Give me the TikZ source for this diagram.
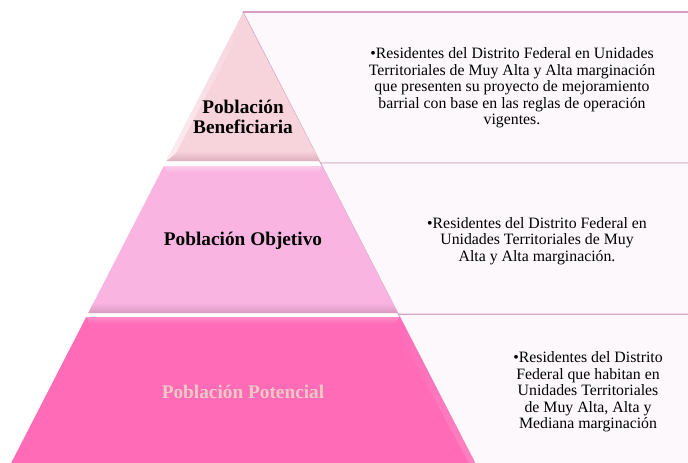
\documentclass[tikz,border=0pt]{standalone}
\usepackage{fontspec}
\setmainfont{Liberation Serif}
\definecolor{panelfill}{HTML}{FCF8FB}
\definecolor{panelline}{HTML}{D6A6C6}
\definecolor{topline}{HTML}{D89CC6}
\definecolor{tierA}{HTML}{F7D3DC}
\definecolor{tierAd}{HTML}{DDAFBC}
\definecolor{tierB}{HTML}{F9B4E1}
\definecolor{tierBd}{HTML}{D99AC0}
\definecolor{tierC}{HTML}{FF6BB7}
\definecolor{tierCd}{HTML}{EE5FAA}
\definecolor{peach}{HTML}{F2C8C6}
\tikzset{
  panel/.style={fill=panelfill, draw=panelline, line width=0.9pt},
  tierlabel/.style={font=\bfseries\fontsize{19.3}{20.5}\selectfont, align=center, inner sep=0pt},
  desc/.style={font=\fontsize{15.8}{16.4}\selectfont, align=center, inner sep=0pt, text=black}
}
\begin{document}
\begin{tikzpicture}[x=1pt,y=-1pt]
\useasboundingbox (0,0) rectangle (688,463);
% right panels
\path[panel] (243,12) -- (690,12) -- (690,163) -- (320.6,163) -- cycle;
\path[panel] (320.6,163) -- (690,163) -- (690,314) -- (398.2,314) -- cycle;
\path[fill=panelfill] (398.2,314) -- (690,314) -- (690,465) -- (476,465) -- cycle;
\draw[panelline, line width=0.9pt] (398.2,314) -- (690,314);
\draw[panelline, line width=0.9pt] (398.2,314) -- (476,465);
\draw[topline, line width=1.6pt] (243,12) -- (690,12);
% tier 1
\fill[tierA] (243,13) -- (166.4,161) -- (319.6,161) -- cycle;
\shade[top color=tierA, bottom color=tierAd] (171.6,151) -- (314.4,151) -- (319.6,161) -- (166.4,161) -- cycle;
\shade[left color=white!60!tierA, right color=tierA] (243,13) -- (166.4,161) -- (176,153) -- (243,26) -- cycle;
% tier 2
\fill[tierB] (163.8,166) -- (322.2,166) -- (397.7,313) -- (88.3,313) -- cycle;
\shade[top color=white!30!tierB, bottom color=tierB] (163.8,166) -- (322.2,166) -- (318,173) -- (168,173) -- cycle;
\shade[top color=tierB, bottom color=tierBd] (93.5,303) -- (392.5,303) -- (397.7,313) -- (88.3,313) -- cycle;
% tier 3
\fill[tierC] (86.2,317) -- (399.8,317) -- (474.8,463) -- (11.2,463) -- cycle;
\shade[top color=white!22!tierC, bottom color=tierC] (86.2,317) -- (399.8,317) -- (396,324) -- (90,324) -- cycle;
\shade[left color=tierC, right color=white!15!tierC] (394,325) -- (399.8,317) -- (474.8,463) -- (469,463) -- cycle;
% tier labels
\node[tierlabel] (lbA) at (243,117) {Población\\Beneficiaria};
\node[tierlabel] (lbB) at (243,241) {Población Objetivo};
\node[tierlabel, text=peach] (lbC) at (243,392) {Población Potencial};
% descriptions
\node[desc] (dA) at (512,88) {•Residentes del Distrito Federal en Unidades\\Territoriales de Muy Alta y Alta marginación\\que presenten su proyecto de mejoramiento\\barrial con base en las reglas de operación\\vigentes.};
\node[desc] (dB) at (537,241) {•Residentes del Distrito Federal en\\Unidades Territoriales de Muy\\Alta y Alta marginación.};
\node[desc] (dC) at (588,392) {•Residentes del Distrito\\Federal que habitan en\\Unidades Territoriales\\de Muy Alta, Alta y\\Mediana marginación};
\end{tikzpicture}
\end{document}
